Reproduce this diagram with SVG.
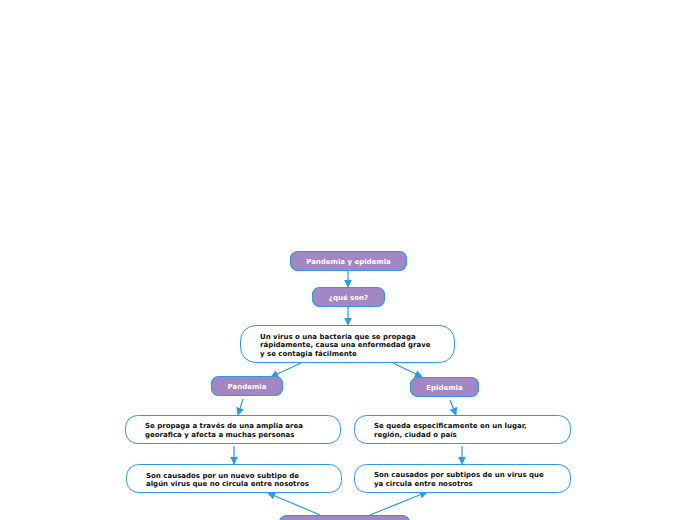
<svg xmlns="http://www.w3.org/2000/svg" width="696" height="520" viewBox="0 0 696 520">
<style>
.p{fill:#a386c4;stroke:#2b9be3;stroke-width:1.2}
.w{fill:#ffffff;stroke:#2b9be3;stroke-width:1}
.tp{font-family:"DejaVu Sans",Verdana,sans-serif;font-weight:bold;font-size:7px;fill:#ffffff;text-anchor:middle}
.tw{font-family:"DejaVu Sans",Verdana,sans-serif;font-weight:bold;font-size:7px;fill:#111111}
.c{stroke:#2b9be3;stroke-width:1.2;fill:none;marker-end:url(#a)}
</style>
<defs>
<marker id="a" viewBox="0 0 10 10" refX="9" refY="5" markerWidth="8" markerHeight="8" markerUnits="userSpaceOnUse" orient="auto">
<path d="M0,0 L10,5 L0,10 z" fill="#2b9be3"/>
</marker>
</defs>
<rect width="696" height="520" fill="#ffffff"/>
<g id="connectors">
<line class="c" x1="348" y1="271" x2="348" y2="287"/>
<line class="c" x1="348" y1="307" x2="348" y2="325"/>
<line class="c" x1="301" y1="363" x2="271" y2="377"/>
<line class="c" x1="393" y1="363" x2="422" y2="377"/>
<line class="c" x1="243" y1="399" x2="238" y2="415"/>
<line class="c" x1="450" y1="400" x2="456" y2="415"/>
<line class="c" x1="234" y1="446" x2="234" y2="464"/>
<line class="c" x1="462" y1="446" x2="462" y2="464"/>
<line class="c" x1="320" y1="515" x2="268" y2="493"/>
<line class="c" x1="370" y1="515" x2="427" y2="492"/>
</g>
<g id="n1"><rect class="p" x="290.5" y="251.5" width="116" height="19" rx="7"/><text class="tp" x="348.5" y="263.5">Pandemia y epidemia</text></g>
<g id="n2"><rect class="p" x="312.5" y="287.5" width="72" height="19" rx="7"/><text class="tp" x="348.5" y="299.5">¿qué son?</text></g>
<g id="n3"><rect class="w" x="240.5" y="325.5" width="214" height="37" rx="15"/><text class="tw" x="260" y="338.5">Un virus o una bacteria que se propaga</text><text class="tw" x="260" y="347">rápidamente, causa una enfermedad grave</text><text class="tw" x="260" y="355.5">y se contagia fácilmente</text></g>
<g id="n4"><rect class="p" x="211.5" y="376.5" width="71" height="19" rx="7"/><text class="tp" x="247" y="388.5">Pandemia</text></g>
<g id="n5"><rect class="p" x="410.5" y="377.5" width="68" height="19" rx="7"/><text class="tp" x="444.5" y="389.5">Epidemia</text></g>
<g id="n6"><rect class="w" x="125.5" y="415.5" width="215" height="28" rx="12"/><text class="tw" x="145" y="428">Se propaga a través de una amplia area</text><text class="tw" x="145" y="437">georafica y afecta a muchas personas</text></g>
<g id="n7"><rect class="w" x="354.5" y="415.5" width="216" height="28" rx="12"/><text class="tw" x="374" y="428">Se queda especificamente en un lugar,</text><text class="tw" x="374" y="437">región, ciudad o país</text></g>
<g id="n8"><rect class="w" x="126.5" y="464.5" width="215" height="28" rx="12"/><text class="tw" x="146" y="477.5">Son causados por un nuevo subtipo de</text><text class="tw" x="146" y="486">algún virus que no circula entre nosotros</text></g>
<g id="n9"><rect class="w" x="354.5" y="464.5" width="216" height="28" rx="12"/><text class="tw" x="374" y="477">Son causados por subtipos de un virus que</text><text class="tw" x="374" y="485.5">ya circula entre nosotros</text></g>
<g id="n10"><rect class="p" x="279.5" y="515.5" width="130" height="19" rx="7"/></g>
</svg>
